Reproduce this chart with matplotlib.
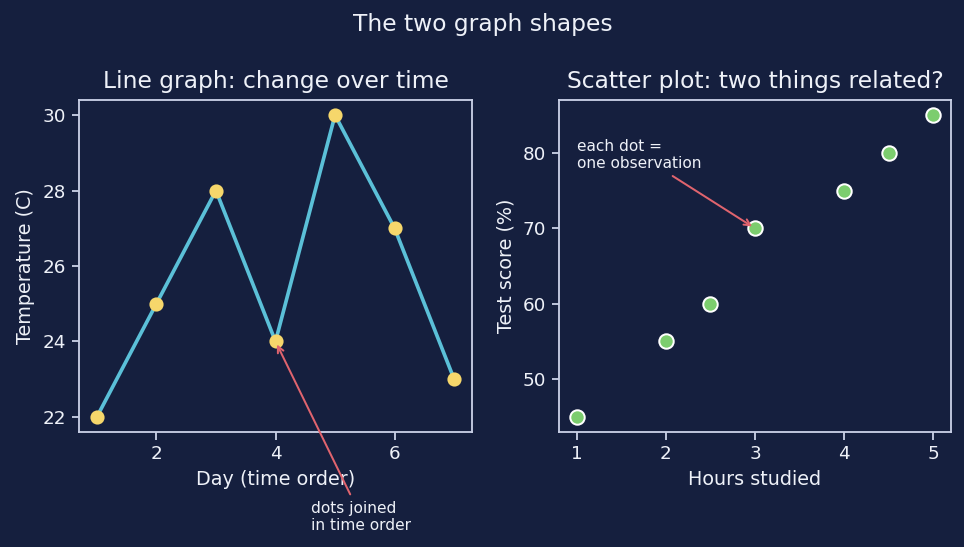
import matplotlib
matplotlib.use("Agg")
import matplotlib.pyplot as plt

# Data
days = [1, 2, 3, 4, 5, 6, 7]
temps = [22, 25, 28, 24, 30, 27, 23]
hours = [1, 2, 2.5, 3, 4, 4.5, 5]
scores = [45, 55, 60, 70, 75, 80, 85]

BG = "#151f3e"
FG = "#eef1f8"
SPINE = "#c9d0e6"
LINE = "#5bc0d8"
YELLOW = "#f6d76b"
GREEN = "#7ccd6e"
ARROW = "#e0646e"

DPI = 120
fig = plt.figure(figsize=(965 / DPI, 547 / DPI), dpi=DPI, facecolor=BG)
W, H = 965, 547

def axes_px(x0, y0, x1, y1):
    return fig.add_axes([x0 / W, 1 - y1 / H, (x1 - x0) / W, (y1 - y0) / H])

ax1 = axes_px(79, 100, 472, 432)
ax2 = axes_px(559, 100, 951, 432)

for ax in (ax1, ax2):
    ax.set_facecolor(BG)
    for s in ax.spines.values():
        s.set_color(SPINE)
        s.set_linewidth(1.1)
    ax.tick_params(colors=SPINE, labelcolor=FG, labelsize=11, length=4.5, width=1.1)

# Line graph
ax1.plot(days, temps, color=LINE, lw=2.2, zorder=2)
ax1.plot(days, temps, "o", color=YELLOW, ms=7.5, zorder=3)
ax1.set_title("Line graph: change over time", color=FG, fontsize=14, pad=7)
ax1.set_xlabel("Day (time order)", color=FG, fontsize=11.5)
ax1.set_ylabel("Temperature (C)", color=FG, fontsize=11.5)
ax1.set_xticks([2, 4, 6])
ax1.set_yticks([22, 24, 26, 28, 30])
ax1.annotate("dots joined\nin time order", xy=(4, 24), xytext=(4.6, 19),
             textcoords="data", color=FG, fontsize=9.2, annotation_clip=False,
             arrowprops=dict(arrowstyle="->", color=ARROW, lw=1.2))

# Scatter plot
ax2.scatter(hours, scores, s=75, color=GREEN, edgecolors="white", linewidths=1.2, zorder=3)
ax2.set_title("Scatter plot: two things related?", color=FG, fontsize=14, pad=7)
ax2.set_xlabel("Hours studied", color=FG, fontsize=11.5)
ax2.set_ylabel("Test score (%)", color=FG, fontsize=11.5)
ax2.set_xticks([1, 2, 3, 4, 5])
ax2.set_yticks([50, 60, 70, 80])
ax2.annotate("each dot =\none observation", xy=(3, 70), xytext=(1, 78),
             textcoords="data", color=FG, fontsize=9.2,
             arrowprops=dict(arrowstyle="->", color=ARROW, lw=1.2))

fig.suptitle("The two graph shapes", color=FG, fontsize=14, y=1 - 24 / H, va="center")

fig.savefig("out.png", dpi=DPI, facecolor=BG)
